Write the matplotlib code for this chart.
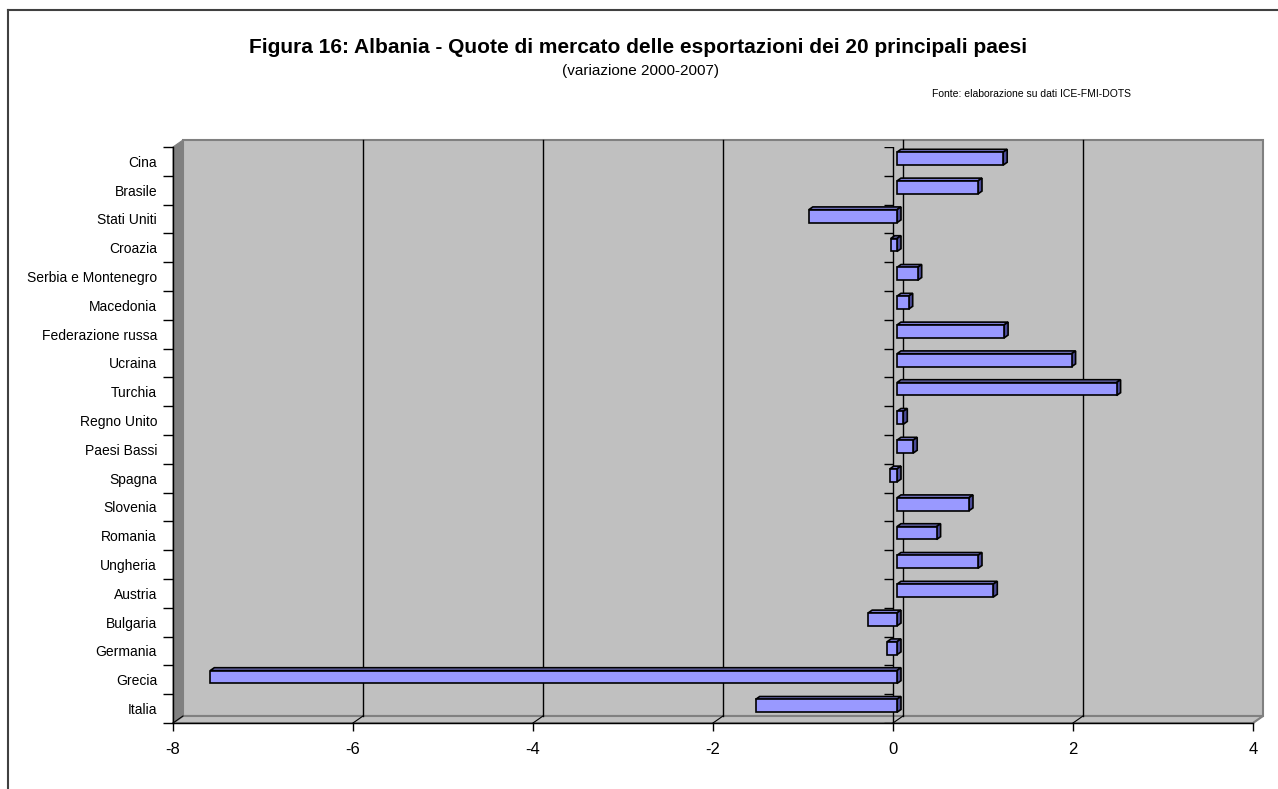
import numpy as np
import matplotlib.pyplot as plt
from matplotlib.patches import Polygon
from matplotlib.lines import Line2D

plt.rcParams['font.family'] = ['Liberation Sans', 'DejaVu Sans']

# paesi dal basso verso l'alto
paesi = ['Italia', 'Grecia', 'Germania', 'Bulgaria', 'Austria', 'Ungheria',
         'Romania', 'Slovenia', 'Spagna', 'Paesi Bassi', 'Regno Unito',
         'Turchia', 'Ucraina', 'Federazione russa', 'Macedonia',
         'Serbia e Montenegro', 'Croazia', 'Stati Uniti', 'Brasile', 'Cina']
variazione = [-1.57, -7.63, -0.11, -0.32, 1.07, 0.90, 0.44, 0.80, -0.08, 0.18,
              0.07, 2.44, 1.94, 1.19, 0.13, 0.23, -0.07, -0.98, 0.90, 1.18]
x_ticks = [-8, -6, -4, -2, 0, 2, 4]

xmin, xmax = -8, 4
n = len(paesi)

# spostamento prospettico per profondita' 1 (in unita' dei dati)
DX = 0.111
DY = 0.243


def p(x, y, d):
    return (x + d * DX, y + d * DY)


fig = plt.figure(figsize=(12.78, 7.89), dpi=100)
ax = fig.add_axes([173 / 1278, 66 / 789, 1080 / 1278, 576 / 789])
ax.set_xlim(xmin, xmax)
ax.set_ylim(0, n)
ax.patch.set_visible(False)

# pareti e pavimento
ax.add_patch(Polygon([p(xmin, 0, 1), p(xmax, 0, 1), p(xmax, n, 1), p(xmin, n, 1)],
                     closed=True, fc='#C0C0C0', ec='#808080', lw=1.5,
                     clip_on=False, zorder=0))
ax.add_patch(Polygon([p(xmin, 0, 0), p(xmin, n, 0), p(xmin, n, 1), p(xmin, 0, 1)],
                     closed=True, fc='#808080', ec='#808080', lw=0.8,
                     clip_on=False, zorder=0.5))
ax.add_patch(Polygon([p(xmin, 0, 0), p(xmax, 0, 0), p(xmax, 0, 1), p(xmin, 0, 1)],
                     closed=True, fc='#C0C0C0', ec='#808080', lw=1.5,
                     clip_on=False, zorder=0.5))

# griglia sulla parete di fondo e sul pavimento
for t in x_ticks[1:-1]:
    (xa, ya), (xb, yb) = p(t, 0, 1), p(t, n, 1)
    ax.plot([xa, xb], [ya, yb], color='black', lw=1, zorder=0.8, clip_on=False)
for t in x_ticks:
    (xa, ya), (xb, yb) = p(t, 0, 0), p(t, 0, 1)
    ax.plot([xa, xb], [ya, yb], color='black' if t < xmax else '#808080',
            lw=0.8, zorder=0.8, clip_on=False)

# asse delle categorie sullo zero
ax.plot([0, 0], [0, n], color='black', lw=1, zorder=1)
ax.hlines(np.arange(n + 1), -0.1, 0, color='black', lw=1, zorder=1)

# barre 3D
d0, d1 = 0.4, 0.8
h = 0.225
for i, v in enumerate(variazione):
    c = i + 0.5
    x0, x1 = min(0, v), max(0, v)
    front = [p(x0, c - h, d0), p(x1, c - h, d0), p(x1, c + h, d0), p(x0, c + h, d0)]
    top = [p(x0, c + h, d0), p(x1, c + h, d0), p(x1, c + h, d1), p(x0, c + h, d1)]
    side = [p(x1, c - h, d0), p(x1, c + h, d0), p(x1, c + h, d1), p(x1, c - h, d1)]
    ax.add_patch(Polygon(top, closed=True, fc='#7A7ACC', ec='black', lw=1.2, zorder=2))
    ax.add_patch(Polygon(side, closed=True, fc='#4C4C99', ec='black', lw=1.2, zorder=2))
    ax.add_patch(Polygon(front, closed=True, fc='#9999FF', ec='black', lw=1.2, zorder=2))

# assi
for s in ['top', 'right']:
    ax.spines[s].set_visible(False)
for s in ['left', 'bottom']:
    ax.spines[s].set_color('black')
    ax.spines[s].set_linewidth(1)
    ax.spines[s].set_zorder(3)

ax.set_xticks(x_ticks)
ax.set_xticklabels([str(t) for t in x_ticks])
ax.tick_params(axis='x', direction='out', length=6, width=1, pad=8, labelsize=12)

ax.set_yticks(np.arange(n + 1))
ax.set_yticklabels([])
ax.set_yticks(np.arange(n) + 0.5, minor=True)
ax.set_yticklabels(paesi, minor=True)
ax.tick_params(axis='y', which='major', direction='out', length=7, width=1)
ax.tick_params(axis='y', which='minor', length=0, pad=11.5, labelsize=10)

# titoli
fig.text(0.4996, 1 - 53 / 789,
         'Figura 16: Albania - Quote di mercato delle esportazioni dei 20 principali paesi',
         ha='center', va='baseline', fontsize=15, fontweight='bold')
fig.text(0.501, 1 - 74.5 / 789, '(variazione 2000-2007)',
         ha='center', va='baseline', fontsize=11)
fig.text(0.807, 1 - 94 / 789, 'Fonte: elaborazione su dati ICE-FMI-DOTS',
         ha='center', va='center', fontsize=7.5)

# cornice
fig.add_artist(Line2D([8 / 1278, 1], [1 - 10 / 789, 1 - 10 / 789],
                      color='#404040', lw=1.5))
fig.add_artist(Line2D([8 / 1278, 8 / 1278], [0, 1 - 10 / 789],
                      color='#404040', lw=1.5))

fig.savefig('out.png', dpi=100)
